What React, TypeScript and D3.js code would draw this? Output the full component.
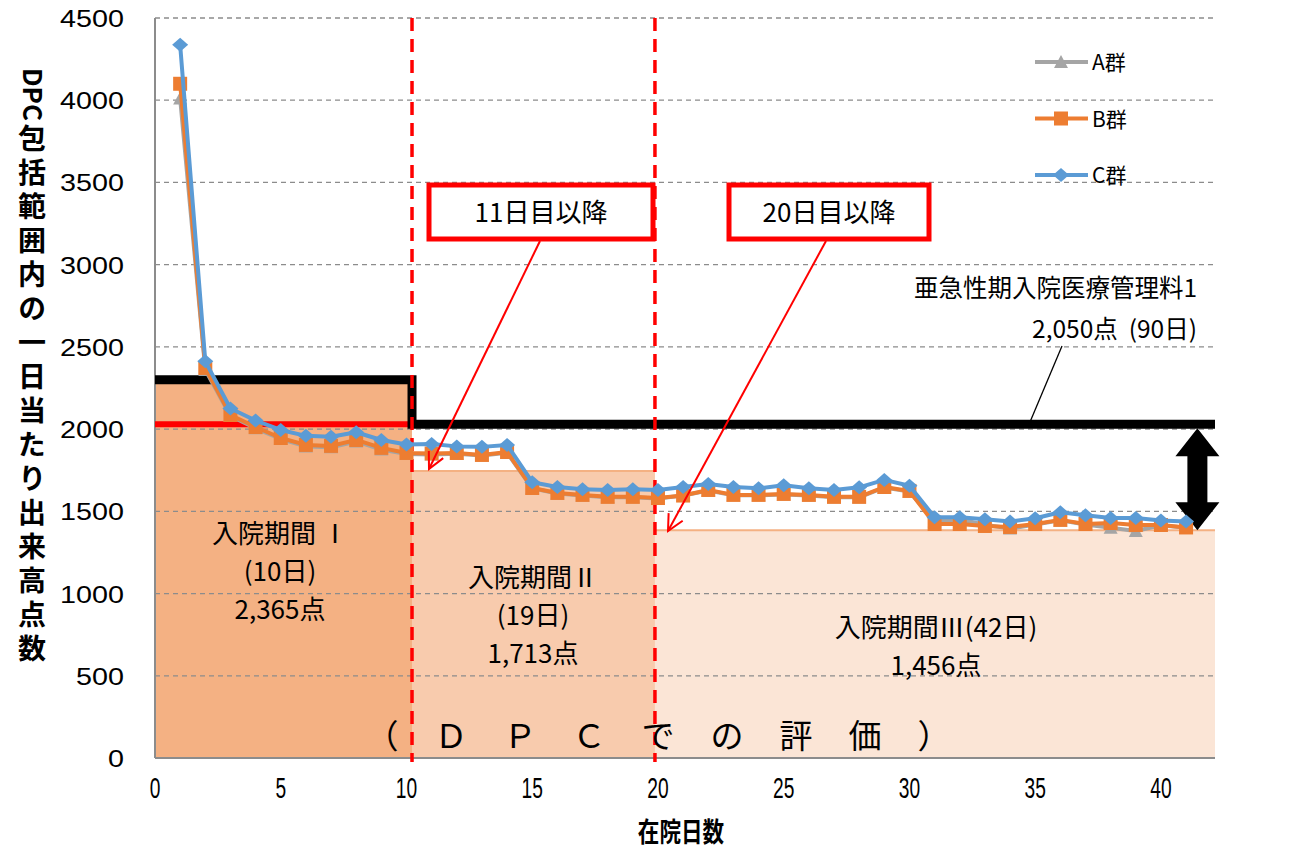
import * as d3 from "d3";

// days in hospital
const days = d3.range(1, 42);

// series values (points per day)
const groupA = [4010, 2360, 2080, 2005, 1940, 1895, 1890, 1925, 1876, 1848, 1845, 1850, 1840, 1856, 1640, 1608, 1596, 1585, 1585, 1578, 1596, 1626, 1598, 1598, 1602, 1596, 1585, 1585, 1645, 1620, 1440, 1450, 1418, 1395, 1420, 1445, 1420, 1400, 1380, 1415, 1400];
const groupB = [4100, 2372, 2086, 2013, 1946, 1904, 1898, 1934, 1886, 1855, 1852, 1855, 1843, 1861, 1642, 1612, 1600, 1588, 1588, 1581, 1596, 1630, 1600, 1600, 1606, 1600, 1588, 1588, 1648, 1624, 1423, 1423, 1411, 1405, 1423, 1448, 1423, 1429, 1417, 1417, 1402];
const groupC = [4337, 2412, 2125, 2052, 1995, 1959, 1953, 1981, 1934, 1906, 1910, 1895, 1892, 1904, 1677, 1648, 1634, 1630, 1634, 1630, 1648, 1666, 1648, 1640, 1658, 1640, 1630, 1646, 1691, 1656, 1464, 1464, 1452, 1438, 1458, 1494, 1476, 1460, 1460, 1444, 1438];

const yTicks = [0, 500, 1000, 1500, 2000, 2500, 3000, 3500, 4000, 4500];
const xTicks = [0, 5, 10, 15, 20, 25, 30, 35, 40];

// hospitalization periods: boundaries and reference point levels
const periodBounds = [0, 10.22, 19.88, 42.15];
const periodLevels = [2300, 1745, 1385];
const periodFills = ["#F4B183", "#F8CBAD", "#FBE5D6"];
const dpcLevel = 2030; // period I red line
const subacuteLevel = 2030; // 亜急性期入院医療管理料1
const periodLabels = [
  { lines: ["入院期間 Ⅰ", "(10日)", "2,365点"], cx: 280, y0: 543 },
  { lines: ["入院期間Ⅱ", "(19日)", "1,713点"], cx: 533, y0: 587 },
  { lines: ["入院期間Ⅲ(42日)", "1,456点"], cx: 936, y0: 637 },
];

const series = [
  { name: "A群", values: groupA, color: "#A5A5A5", marker: "triangle" },
  { name: "B群", values: groupB, color: "#ED7D31", marker: "square" },
  { name: "C群", values: groupC, color: "#5B9BD5", marker: "diamond" },
];

const W = 1303;
const H = 850;
const x = d3.scaleLinear().domain([0, 42.15]).range([155, 1215]);
const y = d3.scaleLinear().domain([0, 4500]).range([758, 18]);

const jp = "'Noto Sans CJK JP', 'Noto Sans', sans-serif";
const num = "'Liberation Sans', Arial, sans-serif";

function Marker({ type, cx, cy, color }: { type: string; cx: number; cy: number; color: string }) {
  if (type === "square") return <rect x={cx - 7} y={cy - 7} width={14} height={14} fill={color} />;
  if (type === "diamond")
    return <path d={`M${cx},${cy - 7}L${cx + 8},${cy}L${cx},${cy + 7}L${cx - 8},${cy}Z`} fill={color} />;
  return <path d={`M${cx},${cy - 7}L${cx + 7},${cy + 6}L${cx - 7},${cy + 6}Z`} fill={color} />;
}

export default function App() {
  const line = d3
    .line<number>()
    .x((_, i) => x(days[i]))
    .y((d) => y(d));

  const xr = x.range()[1];
  const arrowX = x(41.45);
  const aTop = y(subacuteLevel) + 4;
  const aBot = y(periodLevels[2]);
  const doubleArrow = `M${arrowX},${aTop} L${arrowX + 22},${aTop + 28} L${arrowX + 10},${aTop + 28} L${arrowX + 10},${aBot - 28} L${arrowX + 22},${aBot - 28} L${arrowX},${aBot} L${arrowX - 22},${aBot - 28} L${arrowX - 10},${aBot - 28} L${arrowX - 10},${aTop + 28} L${arrowX - 22},${aTop + 28} Z`;

  return (
    <svg width={W} height={H} style={{ position: "absolute", left: 0, top: 0, background: "#fff" }}>
      <defs>
        <marker id="openArrow" viewBox="0 0 20 20" refX="18" refY="10" markerWidth="20" markerHeight="20" markerUnits="userSpaceOnUse" orient="auto">
          <path d="M2,2 L18,10 L2,18" fill="none" stroke="#FF0000" strokeWidth={2} />
        </marker>
      </defs>

      {/* period fills */}
      {periodLevels.map((lv, i) => (
        <rect
          key={i}
          x={x(periodBounds[i])}
          y={y(lv)}
          width={x(periodBounds[i + 1]) - x(periodBounds[i])}
          height={y(0) - y(lv)}
          fill={periodFills[i]}
        />
      ))}
      {[1, 2].map((i) => (
        <line key={i} x1={x(periodBounds[i])} x2={x(periodBounds[i + 1])} y1={y(periodLevels[i])} y2={y(periodLevels[i])} stroke="#F4B183" strokeWidth={2} />
      ))}

      {/* gridlines */}
      {yTicks.slice(1).map((t) => (
        <line key={t} x1={x(0)} x2={xr} y1={y(t)} y2={y(t)} stroke="#8C8C8C" strokeWidth={1.3} strokeDasharray="5,4" />
      ))}

      {/* axes */}
      <line x1={x(0)} x2={x(0)} y1={y(4500)} y2={y(0)} stroke="#8C8C8C" strokeWidth={2} />
      <line x1={x(0)} x2={xr} y1={y(0)} y2={y(0)} stroke="#8C8C8C" strokeWidth={2} />

      {/* red DPC line and black step line */}
      <line x1={x(0)} x2={x(periodBounds[1])} y1={y(dpcLevel)} y2={y(dpcLevel)} stroke="#FF0000" strokeWidth={6} />
      <path
        d={`M${x(0)},${y(2300)} H${x(periodBounds[1])} V${y(subacuteLevel)} H${xr}`}
        fill="none"
        stroke="#000"
        strokeWidth={9}
      />

      {/* period boundaries */}
      {[1, 2].map((i) => (
        <line key={i} x1={x(periodBounds[i])} x2={x(periodBounds[i])} y1={y(4500)} y2={y(0) + 4} stroke="#FF0000" strokeWidth={3.5} strokeDasharray="13,8" />
      ))}

      {/* double arrow */}
      <path d={doubleArrow} fill="#000" />

      {/* series */}
      {series.map((s) => (
        <g key={s.name}>
          <path d={line(s.values) || ""} fill="none" stroke={s.color} strokeWidth={4} strokeLinejoin="round" />
          {s.values.map((v, i) => (
            <Marker key={i} type={s.marker} cx={x(days[i])} cy={y(v)} color={s.color} />
          ))}
        </g>
      ))}

      {/* legend */}
      {series.map((s, i) => {
        const ly = 62 + i * 56.5;
        return (
          <g key={s.name}>
            <line x1={1035} x2={1088} y1={ly} y2={ly} stroke={s.color} strokeWidth={4} />
            <Marker type={s.marker} cx={1061} cy={ly} color={s.color} />
            <text x={1092} y={ly + 8} fontFamily={jp} fontSize={21} fill="#000">
              {s.name}
            </text>
          </g>
        );
      })}

      {/* y tick labels */}
      {yTicks.map((t) => (
        <text key={t} transform={`translate(124,${y(t) + 9}) scale(1.25,1.05)`} textAnchor="end" fontFamily={num} fontSize={23} fill="#000">
          {t}
        </text>
      ))}
      {/* x tick labels */}
      {xTicks.map((t) => (
        <text key={t} transform={`translate(${x(t)},${y(0) + 40}) scale(0.8,1.2)`} textAnchor="middle" fontFamily={num} fontSize={24} fill="#000">
          {t}
        </text>
      ))}

      {/* axis titles */}
      <text transform={`translate(681,842) scale(0.9,1.12)`} textAnchor="middle" fontFamily={jp} fontWeight="bold" fontSize={24} fill="#000">
        在院日数
      </text>
      <text transform="translate(23,68) rotate(90)" fontFamily={jp} fontWeight="bold" fontSize={26} fill="#000">
        DPC
      </text>
      <text
        x={32}
        y={124}
        fontFamily={jp}
        fontWeight="bold"
        fontSize={28}
        letterSpacing={6}
        fill="#000"
        style={{ writingMode: "vertical-rl" }}
      >
        包括範囲内の一日当たり出来高点数
      </text>

      {/* period labels */}
      {periodLabels.map((p, i) => (
        <g key={i}>
          {p.lines.map((ln, j) => (
            <text key={j} x={p.cx} y={p.y0 + j * 38} textAnchor="middle" fontFamily={jp} fontSize={26} fill="#000">
              {ln}
            </text>
          ))}
        </g>
      ))}
      <text x={658} y={748} textAnchor="middle" fontFamily={jp} fontSize={33} fill="#000" textLength={585} lengthAdjust="spacing">
        （ＤＰＣでの評価）
      </text>

      {/* annotations */}
      <rect x={429} y={185} width={224} height={54} fill="#fff" stroke="#FF0000" strokeWidth={5} />
      <text x={541} y={222} textAnchor="middle" fontFamily={jp} fontSize={26} fill="#000">
        11日目以降
      </text>
      <rect x={729} y={185} width={200} height={54} fill="#fff" stroke="#FF0000" strokeWidth={5} />
      <text x={829} y={222} textAnchor="middle" fontFamily={jp} fontSize={26} fill="#000">
        20日目以降
      </text>
      <line x1={540} y1={241} x2={429} y2={469} stroke="#FF0000" strokeWidth={2} markerEnd="url(#openArrow)" />
      <line x1={826} y1={241} x2={668} y2={531} stroke="#FF0000" strokeWidth={2} markerEnd="url(#openArrow)" />

      <text x={1197} y={297} textAnchor="end" fontFamily={jp} fontSize={24.5} fill="#000">
        亜急性期入院医療管理料1
      </text>
      <text x={1197} y={338} textAnchor="end" fontFamily={jp} fontSize={24.5} fill="#000">
        {"2,050点\u00a0\u00a0(90日)"}
      </text>
      <line x1={1062} y1={346} x2={1030} y2={422} stroke="#000" strokeWidth={1.3} />
    </svg>
  );
}
